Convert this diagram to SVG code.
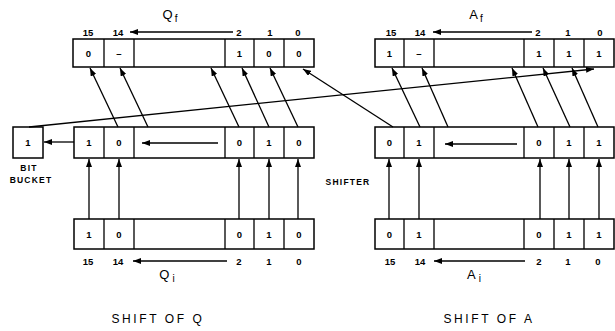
<svg xmlns="http://www.w3.org/2000/svg" width="615" height="331" viewBox="0 0 615 331">
<defs>
<marker id="ah" markerUnits="userSpaceOnUse" markerWidth="9" markerHeight="6" refX="8" refY="3" orient="auto">
<path d="M0,0 L8,3 L0,6 z" fill="#000"/>
</marker>
<style>
.bx{fill:#fff;stroke:#000;stroke-width:1.5}
.dv{stroke:#000;stroke-width:1.3}
.c{stroke:#000;stroke-width:1.3;fill:none;marker-end:url(#ah)}
.d{font-family:"Liberation Sans",Arial,sans-serif;font-weight:bold;font-size:9.5px;text-anchor:middle}
.big{font-family:"Liberation Sans",Arial,sans-serif;font-size:13px;text-anchor:middle}
.sub{font-family:"Liberation Sans",Arial,sans-serif;font-size:10px}
.cap{font-family:"Liberation Sans",Arial,sans-serif;font-size:12px;letter-spacing:2.6px;text-anchor:middle}
.sm{font-family:"Liberation Sans",Arial,sans-serif;font-weight:bold;font-size:8.5px;letter-spacing:1.2px;text-anchor:middle}
</style>
</defs>
<rect width="615" height="331" fill="#fff"/>

<g id="Qf">
<rect class="bx" x="73" y="39" width="241" height="28"/>
<path class="dv" d="M104,39V67M134,39V67M225,39V67M254,39V67M284,39V67"/>
<text class="d" x="88.5" y="56.5">0</text>
<text class="d" x="119" y="56.5">–</text>
<text class="d" x="239.5" y="56.5">1</text>
<text class="d" x="269" y="56.5">0</text>
<text class="d" x="299" y="56.5">0</text>
<text class="d" x="88" y="36">15</text>
<text class="d" x="118" y="36">14</text>
<text class="d" x="239" y="36">2</text>
<text class="d" x="270" y="36">1</text>
<text class="d" x="298" y="36">0</text>
<text class="big" x="170" y="19">Q<tspan class="sub" dy="3" dx="2">f</tspan></text>
</g>

<g id="Af">
<rect class="bx" x="375" y="39" width="239" height="28"/>
<path class="dv" d="M404,39V67M434,39V67M524,39V67M554,39V67M584,39V67"/>
<text class="d" x="389.5" y="56.5">1</text>
<text class="d" x="419" y="56.5">–</text>
<text class="d" x="539" y="56.5">1</text>
<text class="d" x="569" y="56.5">1</text>
<text class="d" x="599" y="56.5">1</text>
<text class="d" x="391" y="36">15</text>
<text class="d" x="420" y="36">14</text>
<text class="d" x="538" y="36">2</text>
<text class="d" x="568" y="36">1</text>
<text class="d" x="600" y="36">0</text>
<text class="big" x="476" y="19">A<tspan class="sub" dy="3" dx="2">f</tspan></text>
</g>

<g id="Qs">
<rect class="bx" x="74" y="127" width="240" height="31"/>
<path class="dv" d="M104,127V158M134,127V158M225,127V158M254,127V158M284,127V158"/>
<text class="d" x="89" y="146">1</text>
<text class="d" x="119" y="146">0</text>
<text class="d" x="239.5" y="146">0</text>
<text class="d" x="269" y="146">1</text>
<text class="d" x="299" y="146">0</text>
</g>

<g id="As">
<rect class="bx" x="375" y="127" width="239" height="31"/>
<path class="dv" d="M404,127V158M434,127V158M524,127V158M554,127V158M584,127V158"/>
<text class="d" x="389.5" y="146">0</text>
<text class="d" x="419" y="146">1</text>
<text class="d" x="539" y="146">0</text>
<text class="d" x="569" y="146">1</text>
<text class="d" x="599" y="146">1</text>
</g>

<g id="bucket">
<rect class="bx" x="13" y="127" width="30" height="31"/>
<text class="d" x="28" y="146">1</text>
<text class="sm" x="29" y="171">BIT</text>
<text class="sm" x="31" y="183">BUCKET</text>
</g>

<g id="shifter">
<text class="sm" x="348" y="185">SHIFTER</text>
</g>

<g id="Qi">
<rect class="bx" x="74" y="219" width="240" height="30"/>
<path class="dv" d="M104,219V249M134,219V249M225,219V249M254,219V249M284,219V249"/>
<text class="d" x="89" y="237.5">1</text>
<text class="d" x="119" y="237.5">0</text>
<text class="d" x="239.5" y="237.5">0</text>
<text class="d" x="269" y="237.5">1</text>
<text class="d" x="299" y="237.5">0</text>
<text class="d" x="88" y="265">15</text>
<text class="d" x="118" y="265">14</text>
<text class="d" x="239" y="265">2</text>
<text class="d" x="269" y="265">1</text>
<text class="d" x="299" y="265">0</text>
<text class="big" x="167" y="278.5">Q<tspan class="sub" dy="3" dx="3">i</tspan></text>
</g>

<g id="Ai">
<rect class="bx" x="375" y="219" width="239" height="30"/>
<path class="dv" d="M404,219V249M434,219V249M524,219V249M554,219V249M584,219V249"/>
<text class="d" x="389.5" y="237.5">0</text>
<text class="d" x="419" y="237.5">1</text>
<text class="d" x="539" y="237.5">0</text>
<text class="d" x="569" y="237.5">1</text>
<text class="d" x="599" y="237.5">1</text>
<text class="d" x="390" y="265">15</text>
<text class="d" x="420" y="265">14</text>
<text class="d" x="539" y="265">2</text>
<text class="d" x="568" y="265">1</text>
<text class="d" x="598" y="265">0</text>
<text class="big" x="474" y="278.5">A<tspan class="sub" dy="3" dx="3">i</tspan></text>
</g>

<g id="captions">
<text class="cap" x="158" y="323">SHIFT OF Q</text>
<text class="cap" x="489" y="323">SHIFT OF A</text>
</g>

<g id="connectors">
<path class="c" d="M233,32H130"/>
<path class="c" d="M532,32H433"/>
<path class="c" d="M227,261H133"/>
<path class="c" d="M525,261H434"/>
<path class="c" d="M218,143H142"/>
<path class="c" d="M517,144H445"/>
<path class="c" d="M74,142H44"/>
<path class="c" d="M89,219V159"/>
<path class="c" d="M119,219V159"/>
<path class="c" d="M239,219V159"/>
<path class="c" d="M269,219V159"/>
<path class="c" d="M298,219V159"/>
<path class="c" d="M389,219V159"/>
<path class="c" d="M419,219V159"/>
<path class="c" d="M540,219V159"/>
<path class="c" d="M569,219V159"/>
<path class="c" d="M599,219V159"/>
<path class="c" d="M118,127L90,68"/>
<path class="c" d="M148,127L120,68"/>
<path class="c" d="M239,127L211,68"/>
<path class="c" d="M269,127L242,68"/>
<path class="c" d="M298,127L270,68"/>
<path class="c" d="M420,127L392,68"/>
<path class="c" d="M448,127L422,68"/>
<path class="c" d="M538,127L512,68"/>
<path class="c" d="M570,127L543,68"/>
<path class="c" d="M598,127L572,68"/>
<path class="c" d="M393,127L303,69"/>
<path class="c" d="M29,127L594,69"/>
</g>
</svg>
